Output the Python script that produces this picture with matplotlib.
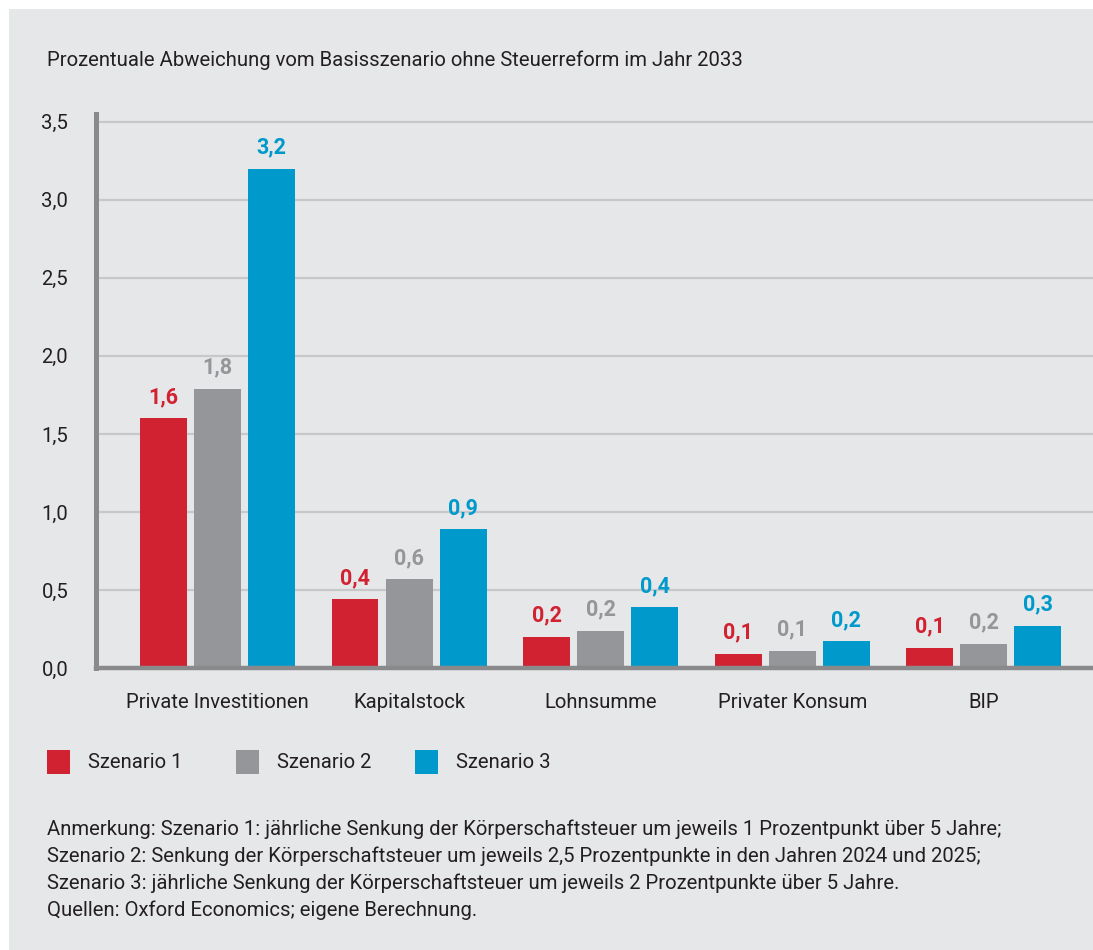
import matplotlib.pyplot as plt
import numpy as np
from matplotlib.patches import Rectangle

plt.rcParams["font.family"] = ["Roboto", "DejaVu Sans"]

categories = ["Private Investitionen", "Kapitalstock", "Lohnsumme", "Privater Konsum", "BIP"]
scenarios = ["Szenario 1", "Szenario 2", "Szenario 3"]
# bar heights, labels as printed
values_s1 = [1.60, 0.44, 0.20, 0.09, 0.13]
values_s2 = [1.79, 0.57, 0.24, 0.11, 0.155]
values_s3 = [3.20, 0.89, 0.39, 0.17, 0.27]
labels_s1 = ["1,6", "0,4", "0,2", "0,1", "0,1"]
labels_s2 = ["1,8", "0,6", "0,2", "0,1", "0,2"]
labels_s3 = ["3,2", "0,9", "0,4", "0,2", "0,3"]
yticks = [0.0, 0.5, 1.0, 1.5, 2.0, 2.5, 3.0, 3.5]

colors = ["#d12232", "#959699", "#0099cc"]
bg = "#e6e7e9"
text_col = "#231f20"
fs = 14.6

fig = plt.figure(figsize=(10.93, 9.5), dpi=100)
fig.patch.set_facecolor("white")
fig.patches.append(Rectangle((9 / 1093, 0), 1, 941 / 950, transform=fig.transFigure,
                             facecolor=bg, edgecolor="none", zorder=-10))

ax = fig.add_axes([96 / 1093, 282 / 950, 997 / 1093, 554 / 950])
ax.patch.set_alpha(0)

x = np.arange(len(categories))
width = 0.245
step = 0.282
series = [(values_s1, labels_s1), (values_s2, labels_s2), (values_s3, labels_s3)]
for i, (vals, labs) in enumerate(series):
    xs = x + (i - 1) * step
    ax.bar(xs, vals, width=width, color=colors[i], zorder=3, label=scenarios[i])
    for xi, v, lab in zip(xs, vals, labs):
        ax.text(xi, v + 0.065, lab, ha="center", va="bottom", fontsize=15.5,
                fontweight="bold", color=colors[i], zorder=4)

ax.set_xlim(-0.634, len(categories) - 0.43)
ax.set_ylim(0, 3.55)
ax.set_yticks(yticks)
ax.set_yticklabels([f"{t:.1f}".replace(".", ",") for t in yticks], fontsize=fs, color=text_col)
ax.set_xticks(x)
ax.set_xticklabels(categories, fontsize=fs, color=text_col)
ax.tick_params(axis="both", length=0)
ax.tick_params(axis="y", pad=20)
ax.tick_params(axis="x", pad=18)
ax.grid(axis="y", color="#c8c8ca", linewidth=1.6, zorder=0)
ax.set_axisbelow(True)

for side in ["top", "right"]:
    ax.spines[side].set_visible(False)
ax.spines["left"].set_color("#8a8a8d")
ax.spines["left"].set_linewidth(3.6)
ax.spines["bottom"].set_color("#8a8a8d")
ax.spines["bottom"].set_linewidth(3.2)
ax.spines["bottom"].set_zorder(5)

fig.text(47 / 1093, 1 - 60 / 950, "Prozentuale Abweichung vom Basisszenario ohne Steuerreform im Jahr 2033",
         fontsize=fs, color=text_col, va="center", ha="left")

# legend drawn by hand to match spacing
leg_x = [47, 236, 415]
for i, name in enumerate(scenarios):
    fig.patches.append(Rectangle((leg_x[i] / 1093, 1 - 774 / 950), 23 / 1093, 24 / 950,
                                 transform=fig.transFigure, facecolor=colors[i], edgecolor="none"))
    fig.text((leg_x[i] + 41) / 1093, 1 - 762 / 950, name, fontsize=fs, color=text_col,
             va="center", ha="left")

notes = [
    "Anmerkung: Szenario 1: jährliche Senkung der Körperschaftsteuer um jeweils 1 Prozentpunkt über 5 Jahre;",
    "Szenario 2: Senkung der Körperschaftsteuer um jeweils 2,5 Prozentpunkte in den Jahren 2024 und 2025;",
    "Szenario 3: jährliche Senkung der Körperschaftsteuer um jeweils 2 Prozentpunkte über 5 Jahre.",
    "Quellen: Oxford Economics; eigene Berechnung.",
]
for k, line in enumerate(notes):
    fig.text(47 / 1093, 1 - (829 + 27 * k) / 950, line, fontsize=fs, color=text_col,
             va="center", ha="left")

fig.savefig("out.png", dpi=100, facecolor=fig.get_facecolor())
